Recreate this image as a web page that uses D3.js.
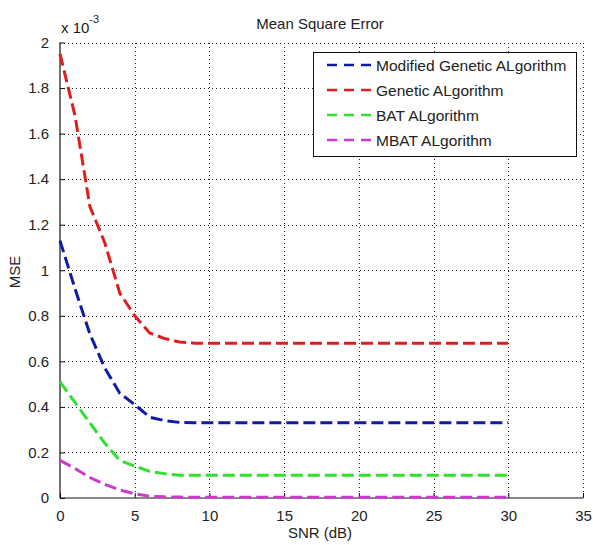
<!DOCTYPE html>
<html>
<head>
<meta charset="utf-8">
<script src="https://cdn.jsdelivr.net/npm/d3@7/dist/d3.min.js"></script>
<style>
  html, body { margin: 0; padding: 0; background: #fff; }
  svg { display: block; }
  text { font-family: "Liberation Sans", Arial, sans-serif; fill: #222; }
</style>
</head>
<body>
<svg id="chart" width="593" height="545"></svg>
<script>
// SNR sample points (dB)
const snr = [0, 1, 2, 3, 4, 5, 6, 7, 8, 9, 10, 15, 20, 25, 30];

// MSE values, in units of 1e-3
const mgaMse  = [1.13, 0.92, 0.72, 0.57, 0.46, 0.41, 0.355, 0.34, 0.332, 0.33, 0.33, 0.33, 0.33, 0.33, 0.33];
const gaMse   = [1.95, 1.68, 1.28, 1.12, 0.90, 0.80, 0.725, 0.70, 0.685, 0.68, 0.68, 0.68, 0.68, 0.68, 0.68];
const batMse  = [0.51, 0.42, 0.33, 0.24, 0.165, 0.14, 0.117, 0.107, 0.10, 0.10, 0.10, 0.10, 0.10, 0.10, 0.10];
const mbatMse = [0.165, 0.13, 0.09, 0.06, 0.035, 0.018, 0.008, 0.005, 0.004, 0.003, 0.003, 0.003, 0.003, 0.003, 0.003];

const seriesNames  = ["Modified Genetic ALgorithm", "Genetic ALgorithm", "BAT ALgorithm", "MBAT ALgorithm"];
const seriesValues = [mgaMse, gaMse, batMse, mbatMse];
const seriesColors = ["#0c1ca6", "#dd1e1e", "#2fe02f", "#cc3acc"];

const xTicks = [0, 5, 10, 15, 20, 25, 30, 35];
const yTicks = [0, 0.2, 0.4, 0.6, 0.8, 1, 1.2, 1.4, 1.6, 1.8, 2];

const svg = d3.select("#chart");
const plotLeft = 60, plotRight = 583, plotTop = 42.5, plotBottom = 498;

const x = d3.scaleLinear().domain([0, 35]).range([plotLeft, plotRight]);
const y = d3.scaleLinear().domain([0, 2]).range([plotBottom, plotTop]);

// dotted grid
const grid = svg.append("g").attr("stroke", "#222").attr("stroke-width", 1)
  .attr("stroke-dasharray", "1,3").attr("shape-rendering", "crispEdges");
xTicks.filter(d => d > 0).forEach(d => {
  grid.append("line")
    .attr("x1", Math.round(x(d)) + 0.5).attr("x2", Math.round(x(d)) + 0.5)
    .attr("y1", Math.round(plotTop)).attr("y2", plotBottom);
});
yTicks.filter(d => d > 0).forEach(d => {
  grid.append("line")
    .attr("x1", plotLeft).attr("x2", plotRight)
    .attr("y1", Math.round(y(d)) + 0.5).attr("y2", Math.round(y(d)) + 0.5);
});

// axes (ticks pointing inward)
const fmt = d => d === 0 ? "0" : d3.format("~g")(d);
const xAxis = d3.axisBottom(x).tickValues(xTicks).tickSize(-5).tickPadding(12).tickFormat(fmt);
const yAxis = d3.axisLeft(y).tickValues(yTicks).tickSize(-5).tickPadding(11).tickFormat(fmt);

const gx = svg.append("g").attr("transform", `translate(0,${plotBottom})`).call(xAxis);
const gy = svg.append("g").attr("transform", `translate(${plotLeft},0)`).call(yAxis);
[gx, gy].forEach(g => {
  g.select(".domain").attr("stroke", "#111").attr("stroke-width", 1.2);
  g.selectAll(".tick line").attr("stroke", "#111");
  g.selectAll(".tick text").style("font-size", "15px")
    .style("font-family", "'Liberation Sans', Arial, sans-serif").attr("fill", "#222");
});
gx.select(".domain").attr("d", `M${plotLeft},0H${plotRight}`);
gy.select(".domain").attr("d", `M0,${plotBottom}V${plotTop}`);

// series
const line = d3.line().x((d, i) => x(snr[i])).y(d => y(d));
seriesValues.forEach((vals, k) => {
  svg.append("path")
    .datum(vals)
    .attr("d", line)
    .attr("fill", "none")
    .attr("stroke", seriesColors[k])
    .attr("stroke-width", 3)
    .attr("stroke-dasharray", "12,5");
});

// titles
svg.append("text").attr("x", 320).attr("y", 29).attr("text-anchor", "middle")
  .style("font-size", "15px").text("Mean Square Error");
svg.append("text").attr("x", 320).attr("y", 538).attr("text-anchor", "middle")
  .style("font-size", "15px").text("SNR (dB)");
svg.append("text").attr("transform", "translate(20,272) rotate(-90)").attr("text-anchor", "middle")
  .style("font-size", "15px").text("MSE");

const expo = svg.append("text").attr("x", 61).attr("y", 33).style("font-size", "15px");
expo.append("tspan").text("x 10");
expo.append("tspan").attr("dy", -10).style("font-size", "11px").text("-3");

// legend
const lg = svg.append("g");
lg.append("rect").attr("x", 313.5).attr("y", 52.5).attr("width", 263).attr("height", 104)
  .attr("fill", "#fff").attr("stroke", "#111").attr("stroke-width", 1);
seriesNames.forEach((name, k) => {
  const cy = 65 + k * 25;
  lg.append("line").attr("x1", 327).attr("x2", 371).attr("y1", cy).attr("y2", cy)
    .attr("stroke", seriesColors[k]).attr("stroke-width", 2.5)
    .attr("stroke-dasharray", "10,7");
  lg.append("text").attr("x", 376).attr("y", cy + 5.5).style("font-size", "15.5px").text(name);
});
</script>
</body>
</html>
